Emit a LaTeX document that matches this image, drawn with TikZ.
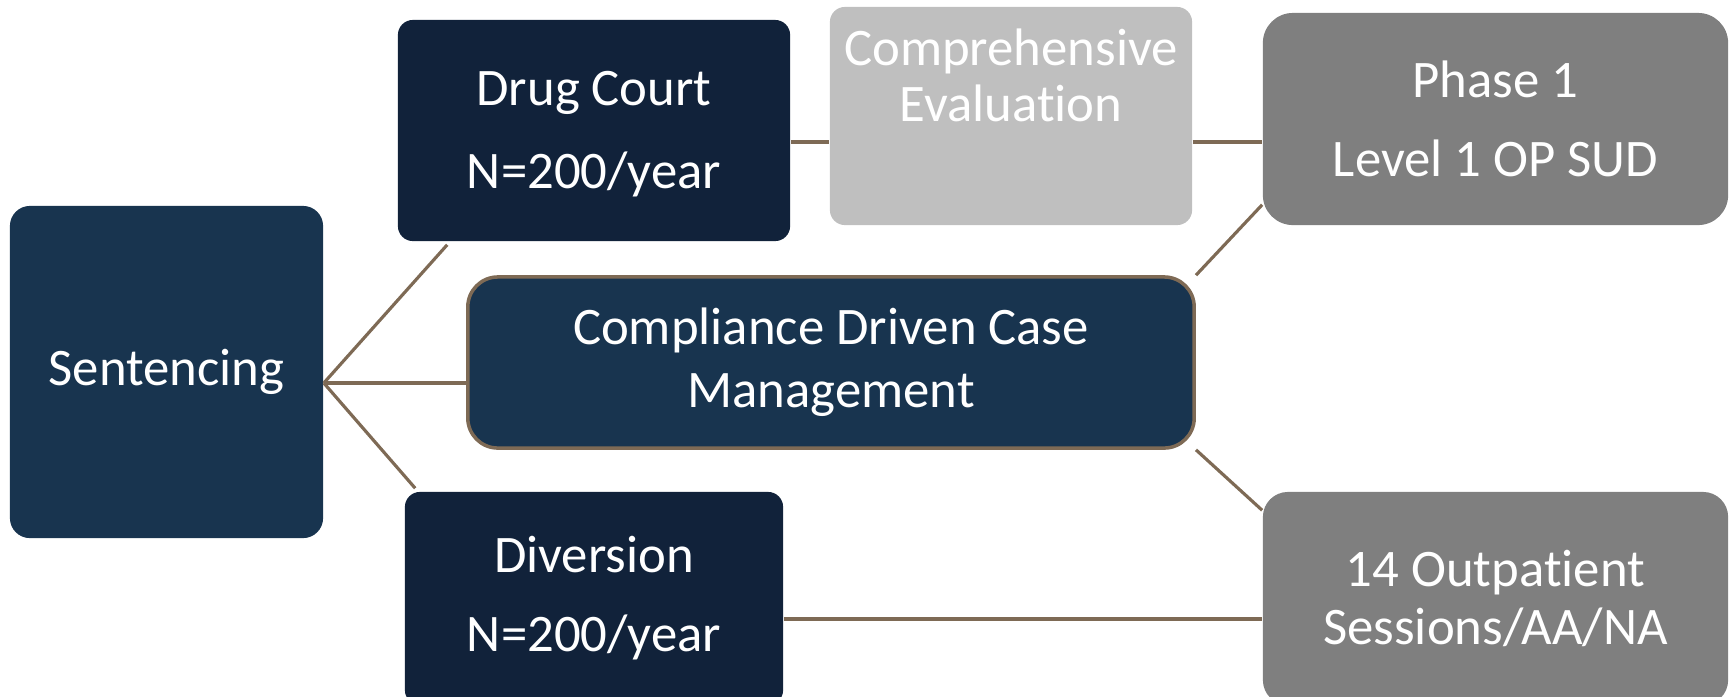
\documentclass[tikz,border=0pt]{standalone}
\usepackage{fontspec}
\setmainfont{Carlito}[Ligatures=NoCommon]
\definecolor{navy}{HTML}{18344F}
\definecolor{ink}{HTML}{11223A}
\definecolor{lightgrey}{HTML}{BFBFBF}
\definecolor{midgrey}{HTML}{7F7F7F}
\definecolor{link}{HTML}{7E6A55}
\newcommand{\lines}[1]{\fontsize{15}{#1}\selectfont}
\begin{document}
\begin{tikzpicture}[x=0.01cm,y=-0.01cm,
  box/.style={rectangle, inner sep=0pt, text=white, align=center},
  txt/.style={inner sep=0pt, text=white, align=center},
  conn/.style={draw=link, line width=0.9pt}]
\useasboundingbox (0,0) rectangle (1730,696);
\clip (0,0) rectangle (1730,696);

% boxes
\node[box, fill=navy, rounded corners=0.2cm, minimum width=3.13cm, minimum height=3.32cm,
      font=\lines{18}] (sent) at (166.5,372) {Sentencing};
\node[box, fill=ink, rounded corners=0.15cm, minimum width=3.92cm, minimum height=2.21cm]
      (drug) at (594,130.5) {};
\node[txt, font=\lines{23.6}] (drugtext) at (594,134) {Drug Court\\N=200/year};
\node[box, fill=lightgrey, rounded corners=0.15cm, minimum width=3.62cm, minimum height=2.18cm]
      (eval) at (1011,116) {};
\node[txt, font=\lines{15.9}] (evaltext) at (1011,75) {Comprehensive\\Evaluation};
\node[box, fill=midgrey, rounded corners=0.3cm, minimum width=4.65cm, minimum height=2.12cm,
      font=\lines{22.5}] (phase) at (1495.5,119) {Phase 1\\Level 1 OP SUD};
\node[box, fill=navy, draw=link, line width=1pt, rounded corners=0.3cm, minimum width=7.26cm,
      minimum height=1.71cm, font=\lines{17.9}] (comp) at (831,362.5) {Compliance Driven Case\\Management};
\node[box, fill=ink, rounded corners=0.15cm, minimum width=3.78cm, minimum height=2.13cm,
      font=\lines{22.5}] (div) at (594,598.5) {Diversion\\N=200/year};
\node[box, fill=midgrey, rounded corners=0.25cm, minimum width=4.65cm, minimum height=2.13cm,
      font=\lines{16.5}] (op) at (1495.5,598.5) {14 Outpatient\\Sessions/AA/NA};

% connectors
\coordinate (hub) at ([yshift=-0.11cm]sent.east);
\draw[conn] (hub) -- ([xshift=0.5cm,yshift=-0.03cm]drug.south west);
\draw[conn] (hub) -- (hub -| comp.west);
\draw[conn] (hub) -- ([xshift=0.11cm,yshift=0.03cm]div.north west);
\coordinate (d1) at ([yshift=-0.115cm]drug.east);
\draw[conn] (d1) -- (d1 -| eval.west);
\coordinate (e1) at ([yshift=-0.26cm]eval.east);
\draw[conn] (e1) -- (e1 -| phase.west);
\draw[conn] (comp.north east) -- ([yshift=0.21cm]phase.south west);
\draw[conn] (comp.south east) -- ([yshift=-0.19cm]op.north west);
\coordinate (v1) at ([yshift=-0.205cm]div.east);
\draw[conn] (v1) -- (v1 -| op.west);
\end{tikzpicture}
\end{document}
